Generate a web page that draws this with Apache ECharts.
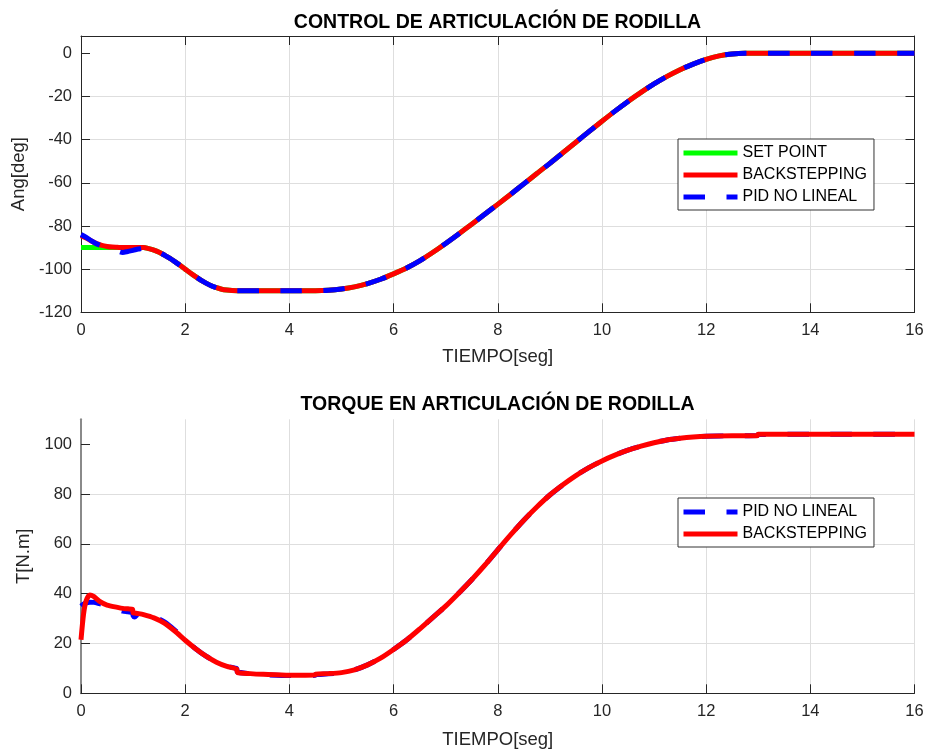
<!DOCTYPE html>
<html>
<head>
<meta charset="utf-8">
<script src="https://cdn.jsdelivr.net/npm/echarts@6/dist/echarts.min.js"></script>
<style>
  html, body { margin: 0; padding: 0; background: #ffffff; }
  #chart { width: 928px; height: 751px; }
</style>
</head>
<body>
<div id="chart"></div>
<script>
// ---- Ejes (marcas) ----
const tiempoTicks = [0, 2, 4, 6, 8, 10, 12, 14, 16];
const anguloTicks = [-120, -100, -80, -60, -40, -20, 0];
const torqueTicks = [0, 20, 40, 60, 80, 100];

// ---- Ángulo de rodilla [deg] ----
const tiempoAng = [
  0, 0.1, 0.2, 0.3, 0.4, 0.5, 0.6, 0.7, 0.8, 0.9, 1.0, 1.1, 1.2,
  1.3, 1.4, 1.5, 1.6, 1.7, 1.8, 1.9, 2.0, 2.1, 2.2, 2.3, 2.4, 2.5, 2.6, 2.7, 2.8, 2.9, 3.0,
  3.5, 4.0,
  4.5, 4.75, 5.0, 5.25, 5.5, 5.75, 6.0, 6.25, 6.5, 6.75, 7.0, 7.25, 7.5, 7.75, 8.0, 8.25,
  8.5, 8.75, 9.0, 9.25, 9.5, 9.75, 10.0, 10.25, 10.5, 10.75, 11.0, 11.25, 11.5, 11.75,
  12.0, 12.25, 12.5, 12.75, 13, 14, 15, 16
];
const angSetPoint = [
  -90, -90, -90, -90, -90, -90, -90, -90, -90, -90, -90, -90, -90,
  -90.5, -91.2, -92.2, -93.5, -94.9, -96.5, -98.2, -100, -101.8, -103.5, -105.1, -106.5, -107.7, -108.6, -109.3, -109.7, -109.95, -110,
  -110, -110,
  -110, -109.8, -109.2, -108.2, -106.7, -104.7, -102.2, -99.5, -96.2, -92.3, -88.1, -83.7, -79.2, -74.6, -70, -65.3,
  -60.5, -55.7, -51, -46.1, -41.2, -36.3, -31.5, -26.8, -22.3, -18.1, -14.2, -10.7, -7.6, -5,
  -2.8, -1.2, -0.3, 0, 0, 0, 0, 0
];
const angBackstepping = [
  -84.5, -85.6, -87, -88.2, -89, -89.5, -89.8, -89.9, -90, -90, -90, -90, -90,
  -90.5, -91.2, -92.2, -93.5, -94.9, -96.5, -98.2, -100, -101.8, -103.5, -105.1, -106.5, -107.7, -108.6, -109.3, -109.7, -109.95, -110,
  -110, -110,
  -110, -109.8, -109.2, -108.2, -106.7, -104.7, -102.2, -99.5, -96.2, -92.3, -88.1, -83.7, -79.2, -74.6, -70, -65.3,
  -60.5, -55.7, -51, -46.1, -41.2, -36.3, -31.5, -26.8, -22.3, -18.1, -14.2, -10.7, -7.6, -5,
  -2.8, -1.2, -0.3, 0, 0, 0, 0, 0
];
const angPid = [
  -84, -85.3, -86.9, -88.3, -89.2, -89.8, -90.6, -91.6, -92.3, -91.8, -91.3, -90.7, -90.3,
  -90.6, -91.2, -92.2, -93.5, -94.9, -96.5, -98.2, -100, -101.8, -103.5, -105.1, -106.5, -107.7, -108.6, -109.3, -109.7, -109.95, -110,
  -110, -110,
  -110, -109.8, -109.2, -108.2, -106.7, -104.7, -102.2, -99.5, -96.2, -92.3, -88.1, -83.7, -79.2, -74.6, -70, -65.3,
  -60.5, -55.7, -51, -46.1, -41.2, -36.3, -31.5, -26.8, -22.3, -18.1, -14.2, -10.7, -7.6, -5,
  -2.8, -1.2, -0.3, 0, 0, 0, 0, 0
];

// ---- Torque en la rodilla [N.m] ----
const tiempoTorque = [
  0, 0.05, 0.1, 0.17, 0.25, 0.35, 0.5, 0.7, 0.8, 0.9, 0.99, 1.0, 1.03, 1.1, 1.2,
  1.4, 1.6, 1.8, 2.0, 2.2, 2.4, 2.6, 2.8,
  2.99, 3.0, 3.25, 3.5, 4.0, 4.49, 4.5, 4.75,
  5.0, 5.25, 5.5, 5.75, 6.0, 6.25, 6.5, 6.75, 7.0, 7.25, 7.5, 7.75, 8.0, 8.25, 8.5,
  8.75, 9.0, 9.25, 9.5, 9.75, 10.0, 10.25, 10.5, 10.75, 11.0, 11.25, 11.5, 11.75, 12.0,
  12.5, 12.98, 13.0, 14, 15, 16
];
const torqueBackstepping = [
  21.5, 32, 37.2, 39.5, 38.8, 37, 35.4, 34.5, 34.1, 33.9, 33.7, 32.3, 32.2, 32, 31.6,
  30.3, 28.2, 25, 21.3, 17.9, 14.9, 12.5, 10.8,
  9.7, 8.4, 7.9, 7.6, 7.2, 7.3, 7.7, 7.9,
  8.3, 9.4, 11.4, 14.1, 17.6, 21.4, 25.8, 30.4, 35, 40.2, 45.6, 51.4, 57.6, 63.7, 69.5,
  74.8, 79.6, 83.7, 87.4, 90.6, 93.3, 95.6, 97.6, 99.2, 100.6, 101.7, 102.4, 102.9, 103.2,
  103.4, 103.4, 104, 104, 104, 104
];
const torquePid = [
  35, 35.8, 36.3, 36.6, 36.5, 36, 35.2, 33.6, 33, 32.7, 32.4, 31.2, 30.6, 31.8, 31.7,
  30.7, 28.7, 25.4, 21.5, 17.9, 14.9, 12.5, 10.8,
  9.9, 8.6, 7.9, 7.5, 7.1, 7.2, 7.5, 7.8,
  8.3, 9.4, 11.4, 14.1, 17.6, 21.4, 25.8, 30.4, 35, 40.2, 45.6, 51.4, 57.6, 63.7, 69.5,
  74.8, 79.6, 83.7, 87.4, 90.6, 93.3, 95.6, 97.6, 99.2, 100.6, 101.7, 102.4, 102.9, 103.2,
  103.4, 103.5, 103.9, 104, 104, 104
];

const FONT = '"Liberation Sans", Arial, Helvetica, sans-serif';
const INK = '#262626';
const GRID_COLOR = '#dedede';
const DASH = [21.5, 21.5];

const pairs = (ts, vs) => ts.map((t, i) => [t, vs[i]]);
const step = (arr) => arr[1] - arr[0];

function timeAxis(gridIndex, extra) {
  return Object.assign({
    gridIndex: gridIndex,
    type: 'value',
    min: tiempoTicks[0],
    max: tiempoTicks[tiempoTicks.length - 1],
    interval: step(tiempoTicks),
    axisLine: { show: true, onZero: false, lineStyle: { color: INK, width: 1 } },
    axisTick: { show: true, inside: true, length: 9, lineStyle: { color: INK, width: 1 } },
    axisLabel: { show: true, fontSize: 16.5, color: INK, margin: 10, fontFamily: FONT },
    splitLine: { show: true, lineStyle: { color: GRID_COLOR, width: 1 } }
  }, extra);
}

function valueAxis(gridIndex, ticks, max, extra) {
  return Object.assign({
    gridIndex: gridIndex,
    type: 'value',
    min: ticks[0],
    max: max,
    interval: step(ticks),
    axisLine: { show: true, onZero: false, lineStyle: { color: INK, width: 1 } },
    axisTick: { show: true, inside: true, length: 9, customValues: ticks, lineStyle: { color: INK, width: 1 } },
    axisLabel: { show: true, customValues: ticks, fontSize: 16.5, color: INK, margin: 9, fontFamily: FONT },
    splitLine: { show: true, showMaxLine: false, lineStyle: { color: GRID_COLOR, width: 1 } }
  }, extra);
}

const nameStyle = { fontSize: 18.5, color: INK, fontFamily: FONT };

const lineSeries = (name, data, color, xi, yi, dashed, z) => ({
  name: name,
  type: 'line',
  xAxisIndex: xi,
  yAxisIndex: yi,
  data: data,
  showSymbol: false,
  symbol: 'none',
  smooth: 0.25,
  z: z,
  lineStyle: { color: color, width: 5, type: dashed ? DASH : 'solid', cap: 'butt', join: 'round' },
  itemStyle: { color: color },
  emphasis: { disabled: true }
});

// entradas de leyenda: solo la línea, sin marcador
const legendItem = (name, color, dashed) => ({
  name: name,
  lineStyle: { color: color, width: 5, type: dashed ? DASH : 'solid', cap: 'butt' },
  itemStyle: { color: 'rgba(0,0,0,0)', borderWidth: 0, opacity: 0 }
});

const legendBase = {
  orient: 'vertical',
  left: 678,
  padding: [6, 7, 5, 3],
  itemWidth: 54,
  itemHeight: 5,
  itemGap: 6,
  backgroundColor: '#ffffff',
  borderColor: '#333333',
  borderWidth: 1,
  borderRadius: 0,
  selectedMode: false,
  textStyle: { fontSize: 16, color: '#000000', fontFamily: FONT, lineHeight: 16 }
};

const chart = echarts.init(document.getElementById('chart'), null, { renderer: 'canvas' });

chart.setOption({
  animation: false,
  backgroundColor: '#ffffff',
  textStyle: { fontFamily: FONT },
  title: [
    {
      text: 'CONTROL DE ARTICULACIÓN DE RODILLA',
      left: 497.5, top: 13, padding: 0, textAlign: 'center',
      textStyle: { fontSize: 19.5, fontWeight: 'bold', color: '#000000', fontFamily: FONT }
    },
    {
      text: 'TORQUE EN ARTICULACIÓN DE RODILLA',
      left: 497.5, top: 395, padding: 0, textAlign: 'center',
      textStyle: { fontSize: 19.5, fontWeight: 'bold', color: '#000000', fontFamily: FONT }
    }
  ],
  legend: [
    Object.assign({}, legendBase, {
      top: 139,
      data: [
        legendItem('SET POINT', '#00ff00', false),
        legendItem('BACKSTEPPING', '#ff0000', false),
        legendItem('PID NO LINEAL', '#0000ff', true)
      ]
    }),
    Object.assign({}, legendBase, {
      top: 498,
      data: [
        legendItem('PID NO LINEAL', '#0000ff', true),
        legendItem('BACKSTEPPING', '#ff0000', false)
      ]
    })
  ],
  grid: [
    { left: 81, right: 13.5, top: 36, height: 276.3, containLabel: false },
    { left: 81, right: 13.5, top: 419.3, height: 274, containLabel: false }
  ],
  xAxis: [
    timeAxis(0, { name: 'TIEMPO[seg]', nameLocation: 'middle', nameGap: 35, nameTextStyle: nameStyle }),
    timeAxis(0, { position: 'top', axisLabel: { show: false }, splitLine: { show: false } }),
    timeAxis(1, { name: 'TIEMPO[seg]', nameLocation: 'middle', nameGap: 37, nameTextStyle: nameStyle })
  ],
  yAxis: [
    valueAxis(0, anguloTicks, 8, { name: 'Ang[deg]', nameLocation: 'middle', nameGap: 47, nameTextStyle: nameStyle }),
    valueAxis(0, anguloTicks, 8, { position: 'right', axisLabel: { show: false }, splitLine: { show: false } }),
    valueAxis(1, torqueTicks, 110, {
      name: 'T[N.m]', nameLocation: 'middle', nameGap: 40, nameTextStyle: nameStyle,
      axisLine: { show: true, onZero: false, lineStyle: { color: '#8a8a8a', width: 2 } }
    })
  ],
  series: [
    lineSeries('SET POINT', pairs(tiempoAng, angSetPoint), '#00ff00', 0, 0, false, 2),
    lineSeries('BACKSTEPPING', pairs(tiempoAng, angBackstepping), '#ff0000', 0, 0, false, 3),
    lineSeries('PID NO LINEAL', pairs(tiempoAng, angPid), '#0000ff', 0, 0, true, 4),
    lineSeries('PID NO LINEAL', pairs(tiempoTorque, torquePid), '#0000ff', 2, 2, true, 2),
    lineSeries('BACKSTEPPING', pairs(tiempoTorque, torqueBackstepping), '#ff0000', 2, 2, false, 3)
  ]
});
</script>
</body>
</html>
